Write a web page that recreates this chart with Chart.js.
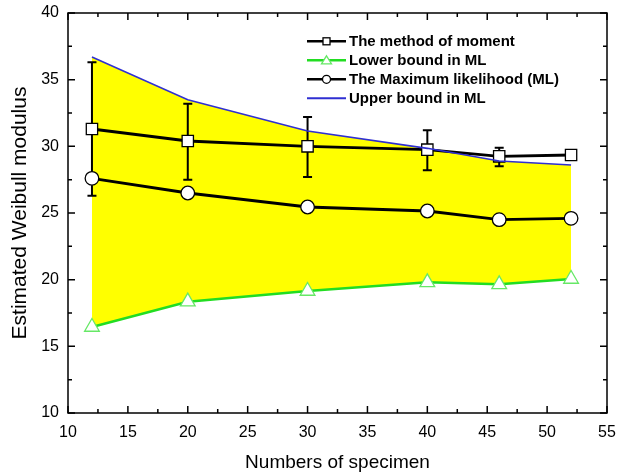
<!DOCTYPE html>
<html lang="en">
<head>
    <meta charset="UTF-8">
    <title>Estimated Weibull modulus</title>
    <script src="https://cdn.jsdelivr.net/npm/chart.js"></script>
    <style>
        body { margin: 0; background: #ffffff; }
        #wrap { width: 617px; height: 476px; }
    </style>
</head>
<body>
<div id="wrap"><canvas id="weibull" width="617" height="476"></canvas></div>

<script>
    // specimen counts
    const specimens = [12, 20, 30, 40, 46, 52];

    // method of moment, with error bar ends
    const momValues = [31.3, 30.4, 30.0, 29.75, 29.25, 29.35];
    const momHigh   = [36.3, 33.2, 32.2, 31.2, 29.9, 29.65];
    const momLow    = [26.3, 27.5, 27.7, 28.2, 28.5, 29.05];

    // maximum likelihood and its bounds
    const mlValues  = [27.6, 26.5, 25.45, 25.15, 24.5, 24.6];
    const mlLower   = [16.45, 18.35, 19.15, 19.8, 19.65, 20.05];
    const mlUpper   = [36.7, 33.5, 31.15, 29.85, 28.9, 28.6];

    const xTicks = { min: 10, max: 55, step: 5 };
    const yTicks = { min: 10, max: 40, step: 5 };

    const font = 'Liberation Sans, Arial, sans-serif';
    const pts = ys => specimens.map((x, i) => ({ x: x, y: ys[i] }));

    // error bars for the method of moment, drawn under its markers
    const errorBars = {
        id: 'errorBars',
        beforeDatasetDraw(chart, args) {
            if (args.index !== 0) return;
            const xs = chart.scales.x, ys = chart.scales.y, ctx = chart.ctx;
            ctx.save();
            ctx.strokeStyle = '#000';
            ctx.lineWidth = 2;
            specimens.forEach((s, i) => {
                const px = xs.getPixelForValue(s);
                const top = ys.getPixelForValue(momHigh[i]);
                const bot = ys.getPixelForValue(momLow[i]);
                ctx.beginPath();
                ctx.moveTo(px, top); ctx.lineTo(px, bot);
                ctx.moveTo(px - 4.5, top); ctx.lineTo(px + 4.5, top);
                ctx.moveTo(px - 4.5, bot); ctx.lineTo(px + 4.5, bot);
                ctx.stroke();
            });
            ctx.restore();
        }
    };

    // box frame with inward major and minor ticks on all four sides
    const frame = {
        id: 'frame',
        afterDraw(chart) {
            const a = chart.chartArea, ctx = chart.ctx;
            const xs = chart.scales.x, ys = chart.scales.y;
            ctx.save();
            ctx.strokeStyle = '#000';
            ctx.lineWidth = 1.5;
            ctx.strokeRect(a.left, a.top, a.right - a.left, a.bottom - a.top);
            ctx.beginPath();
            for (let v = xTicks.min; v <= xTicks.max; v += xTicks.step / 2) {
                const px = xs.getPixelForValue(v);
                const len = (v - xTicks.min) % xTicks.step === 0 ? 7 : 4;
                ctx.moveTo(px, a.bottom); ctx.lineTo(px, a.bottom - len);
                ctx.moveTo(px, a.top); ctx.lineTo(px, a.top + len);
            }
            for (let v = yTicks.min; v <= yTicks.max; v += yTicks.step / 2) {
                const py = ys.getPixelForValue(v);
                const len = (v - yTicks.min) % yTicks.step === 0 ? 7 : 4;
                ctx.moveTo(a.left, py); ctx.lineTo(a.left + len, py);
                ctx.moveTo(a.right, py); ctx.lineTo(a.right - len, py);
            }
            ctx.stroke();
            ctx.restore();
        }
    };

    // legend drawn inside the plot, top right
    const boxLegend = {
        id: 'boxLegend',
        afterDraw(chart) {
            const ctx = chart.ctx;
            const rows = [0, 1, 2, 3];
            const x0 = 307, x1 = 346, mx = 326.5;
            const y0 = 41.3, dy = 19;
            ctx.save();
            ctx.font = 'bold 15px ' + font;
            ctx.textBaseline = 'middle';
            rows.forEach(r => {
                const ds = chart.data.datasets[r];
                const y = y0 + r * dy;
                ctx.strokeStyle = ds.borderColor;
                ctx.lineWidth = r === 3 ? 2 : 2.5;
                ctx.beginPath(); ctx.moveTo(x0, y); ctx.lineTo(x1, y); ctx.stroke();
                ctx.fillStyle = '#fff';
                ctx.strokeStyle = ds.pointBorderColor || ds.borderColor;
                ctx.lineWidth = 1.3;
                if (ds.pointStyle === 'rect') {
                    ctx.fillRect(mx - 3.5, y - 3.5, 7, 7);
                    ctx.strokeRect(mx - 3.5, y - 3.5, 7, 7);
                } else if (ds.pointStyle === 'circle') {
                    ctx.beginPath(); ctx.arc(mx, y, 4, 0, Math.PI * 2); ctx.fill(); ctx.stroke();
                } else if (ds.pointStyle === 'triangle') {
                    ctx.beginPath();
                    ctx.moveTo(mx, y - 4.5); ctx.lineTo(mx + 5, y + 3.5); ctx.lineTo(mx - 5, y + 3.5);
                    ctx.closePath(); ctx.fill(); ctx.stroke();
                }
                ctx.fillStyle = '#000';
                ctx.fillText(ds.label, 349, y + 0.5);
            });
            ctx.restore();
        }
    };

    new Chart(document.getElementById('weibull'), {
        type: 'line',
        data: {
            datasets: [
                {
                    label: 'The method of moment',
                    data: pts(momValues),
                    borderColor: '#000', borderWidth: 2.8,
                    pointStyle: 'rect', pointRadius: 8, pointBorderWidth: 1.3,
                    pointBackgroundColor: '#fff', pointBorderColor: '#000',
                    fill: false, order: 3
                },
                {
                    label: 'Lower bound in ML',
                    data: pts(mlLower),
                    borderColor: '#22dd22', borderWidth: 2.5,
                    pointStyle: 'triangle', pointRadius: 8.5, pointBorderWidth: 1.3,
                    pointBackgroundColor: '#fff', pointBorderColor: '#66e866',
                    fill: false, order: 1
                },
                {
                    label: 'The Maximum likelihood (ML)',
                    data: pts(mlValues),
                    borderColor: '#000', borderWidth: 2.8,
                    pointStyle: 'circle', pointRadius: 6.8, pointBorderWidth: 1.3,
                    pointBackgroundColor: '#fff', pointBorderColor: '#000',
                    fill: false, order: 2
                },
                {
                    label: 'Upper bound in ML',
                    data: pts(mlUpper),
                    borderColor: '#2f2fd2', borderWidth: 1.6,
                    pointRadius: 0,
                    backgroundColor: '#ffff00',
                    fill: { target: 1 }, order: 0
                }
            ]
        },
        options: {
            responsive: false,
            animation: false,
            layout: { padding: { top: 13, right: 10, left: 0, bottom: 0 } },
            plugins: {
                legend: { display: false },
                tooltip: { enabled: false },
                filler: { drawTime: 'beforeDatasetsDraw' }
            },
            scales: {
                x: {
                    type: 'linear',
                    min: xTicks.min, max: xTicks.max,
                    grid: { display: false, drawTicks: false },
                    border: { display: false },
                    ticks: { stepSize: xTicks.step, color: '#000', padding: 10, font: { family: font, size: 16 } },
                    title: { display: true, text: 'Numbers of specimen', color: '#000', padding: { top: 0, bottom: 2 }, font: { family: font, size: 19 } },
                    afterFit(scale) {
                        scale.height = 63;
                        scale.paddingLeft = 0; scale.paddingRight = 0;
                    }
                },
                y: {
                    min: yTicks.min, max: yTicks.max,
                    grid: { display: false, drawTicks: false },
                    border: { display: false },
                    ticks: { stepSize: yTicks.step, color: '#000', padding: 9, font: { family: font, size: 16 } },
                    title: { display: true, text: 'Estimated Weibull modulus', color: '#000', padding: { top: 8, bottom: 0 }, font: { family: font, size: 21 } },
                    afterFit(scale) {
                        scale.width = 68;
                        scale.paddingTop = 0; scale.paddingBottom = 0;
                    }
                }
            }
        },
        plugins: [errorBars, frame, boxLegend]
    });
</script>
</body>
</html>
